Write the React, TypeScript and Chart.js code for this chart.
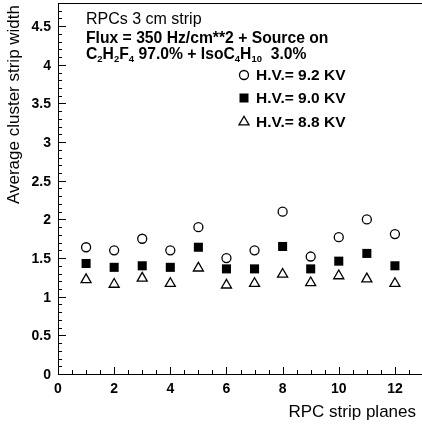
import React, { useEffect, useRef } from "react";
import { Chart, registerables } from "chart.js";

Chart.register(...registerables);

// ---- data ----
const planes = [1, 2, 3, 4, 5, 6, 7, 8, 9, 10, 11, 12];
const hv92 = [1.64, 1.6, 1.75, 1.6, 1.9, 1.5, 1.6, 2.1, 1.52, 1.77, 2.0, 1.81];
const hv90 = [1.43, 1.38, 1.4, 1.38, 1.64, 1.36, 1.36, 1.65, 1.36, 1.46, 1.56, 1.4];
const hv88 = [1.22, 1.16, 1.24, 1.17, 1.37, 1.15, 1.17, 1.29, 1.18, 1.27, 1.23, 1.17];
const xTickValues = [0, 2, 4, 6, 8, 10, 12];
const yTickValues = [0, 0.5, 1, 1.5, 2, 2.5, 3, 3.5, 4, 4.5];
const legendLabels = ["H.V.= 9.2 KV", "H.V.= 9.0 KV", "H.V.= 8.8 KV"];
const titleText = "RPCs 3 cm strip";
const fluxText = "Flux = 350 Hz/cm**2 + Source on";
const gasParts = [
  { t: "C", sub: false },
  { t: "2", sub: true },
  { t: "H", sub: false },
  { t: "2", sub: true },
  { t: "F", sub: false },
  { t: "4", sub: true },
  { t: " 97.0% + IsoC", sub: false },
  { t: "4", sub: true },
  { t: "H", sub: false },
  { t: "10", sub: true },
  { t: "  3.0%", sub: false },
];
const xTitle = "RPC strip planes";
const yTitle = "Average cluster strip width";
const xMin = 0;
const xMax = 13;
const yMin = 0;
const yMax = 4.8;

const FONT = "'Liberation Sans', Arial, Helvetica, sans-serif";
// desired plot frame (pixels)
const AREA = { left: 58, top: 3, right: 423, bottom: 374 };

function drawMarker(ctx: CanvasRenderingContext2D, kind: number, x: number, y: number) {
  ctx.save();
  ctx.lineWidth = 1.3;
  ctx.strokeStyle = "#000";
  if (kind === 0) {
    ctx.beginPath();
    ctx.arc(x, y, 4.5, 0, Math.PI * 2);
    ctx.fillStyle = "#fff";
    ctx.fill();
    ctx.stroke();
  } else if (kind === 1) {
    ctx.fillStyle = "#000";
    ctx.fillRect(x - 4.5, y - 4.5, 9, 9);
  } else {
    const r = 5.8;
    ctx.beginPath();
    ctx.moveTo(x, y - r);
    ctx.lineTo(x + r * Math.sin((2 * Math.PI) / 3), y + r / 2);
    ctx.lineTo(x - r * Math.sin((2 * Math.PI) / 3), y + r / 2);
    ctx.closePath();
    ctx.fillStyle = "#fff";
    ctx.fill();
    ctx.stroke();
  }
  ctx.restore();
}

const fmt = (v: number) => String(Math.round(v * 10) / 10);

const decorPlugin = {
  id: "rootDecor",
  afterDraw(chart: any) {
    const ctx: CanvasRenderingContext2D = chart.ctx;
    const a = chart.chartArea;
    const xs = chart.scales.x;
    const ys = chart.scales.y;
    ctx.save();
    // frame
    ctx.strokeStyle = "#000";
    ctx.lineWidth = 1;
    ctx.strokeRect(Math.round(a.left) + 0.5, Math.round(a.top) + 0.5, Math.round(a.right - a.left), Math.round(a.bottom - a.top));
    // y ticks (inside)
    ctx.beginPath();
    for (let i = 0; i <= Math.round((yMax - yMin) * 10); i++) {
      const v = yMin + i * 0.1;
      const py = Math.round(ys.getPixelForValue(v)) + 0.5;
      const len = i % 5 === 0 ? 8 : 4;
      ctx.moveTo(a.left, py);
      ctx.lineTo(a.left + len, py);
    }
    // x ticks (inside)
    for (let i = 0; i <= Math.round((xMax - xMin) * 2); i++) {
      const v = xMin + i * 0.5;
      const px = Math.round(xs.getPixelForValue(v)) + 0.5;
      const len = i % 4 === 0 ? 7 : 4;
      ctx.moveTo(px, a.bottom);
      ctx.lineTo(px, a.bottom - len);
    }
    ctx.stroke();

    ctx.fillStyle = "#000";
    // tick labels
    ctx.font = `bold 14px ${FONT}`;
    ctx.textBaseline = "middle";
    ctx.textAlign = "right";
    for (const v of yTickValues) {
      ctx.fillText(fmt(v), a.left - 7, ys.getPixelForValue(v) + 1);
    }
    ctx.textAlign = "center";
    for (const v of xTickValues) {
      ctx.fillText(fmt(v), xs.getPixelForValue(v), a.bottom + 15);
    }

    // title texts
    ctx.textBaseline = "alphabetic";
    ctx.textAlign = "left";
    ctx.font = `16px ${FONT}`;
    ctx.fillText(titleText, 86, 24);
    ctx.font = `bold 15.7px ${FONT}`;
    ctx.fillText(fluxText, 86, 43);
    // gas line with subscripts
    let gx = 86;
    const gy = 59;
    for (const p of gasParts) {
      ctx.font = p.sub ? `bold 9.5px ${FONT}` : `bold 15.7px ${FONT}`;
      ctx.fillText(p.t, gx, p.sub ? gy + 3 : gy);
      gx += ctx.measureText(p.t).width;
    }
    // legend
    const rows = [75, 98, 122];
    ctx.font = `bold 15.5px ${FONT}`;
    ctx.textBaseline = "middle";
    rows.forEach((ry, i) => {
      drawMarker(ctx, i, 244, ry);
      ctx.fillStyle = "#000";
      ctx.fillText(legendLabels[i], 256, ry + 1);
    });
    // axis titles
    ctx.font = `17px ${FONT}`;
    ctx.textAlign = "right";
    ctx.textBaseline = "alphabetic";
    ctx.fillText(xTitle, 416, 417);
    ctx.save();
    ctx.translate(19, 5);
    ctx.rotate(-Math.PI / 2);
    ctx.textAlign = "right";
    ctx.fillText(yTitle, 0, 0);
    ctx.restore();
    ctx.restore();
  },
};

export default function App() {
  const ref = useRef<HTMLCanvasElement | null>(null);
  useEffect(() => {
    document.body.style.margin = "0";
    if (!ref.current) return;
    const mk = (ys: number[]) => planes.map((x, i) => ({ x, y: ys[i] }));
    const chart = new Chart(ref.current, {
      type: "scatter",
      data: {
        datasets: [
          {
            label: legendLabels[0],
            data: mk(hv92),
            pointStyle: "circle",
            pointRadius: 4.5,
            pointBackgroundColor: "#fff",
            pointBorderColor: "#000",
            pointBorderWidth: 1.3,
          },
          {
            label: legendLabels[1],
            data: mk(hv90),
            pointStyle: "rect",
            pointRadius: 6.4,
            pointBackgroundColor: "#000",
            pointBorderColor: "#000",
            pointBorderWidth: 0,
          },
          {
            label: legendLabels[2],
            data: mk(hv88),
            pointStyle: "triangle",
            pointRadius: 5.8,
            pointBackgroundColor: "#fff",
            pointBorderColor: "#000",
            pointBorderWidth: 1.3,
          },
        ],
      },
      options: {
        responsive: true,
        maintainAspectRatio: false,
        devicePixelRatio: 1,
        animation: false,
        layout: { autoPadding: false, padding: { left: 58, top: 3, right: 1, bottom: 54 } },
        plugins: { legend: { display: false }, tooltip: { enabled: false } },
        scales: {
          x: { type: "linear", min: xMin, max: xMax, display: false },
          y: { type: "linear", min: yMin, max: yMax, display: false },
        },
      },
      plugins: [decorPlugin],
    } as any);
    // make the plot frame land exactly on the intended pixels
    let pad = { left: 58, top: 3, right: 1, bottom: 54 };
    for (let k = 0; k < 4; k++) {
      const a = chart.chartArea;
      if (!a) break;
      const dl = AREA.left - a.left;
      const dt = AREA.top - a.top;
      const dr = a.right - AREA.right;
      const db = a.bottom - AREA.bottom;
      if (Math.abs(dl) + Math.abs(dt) + Math.abs(dr) + Math.abs(db) < 0.5) break;
      pad = { left: pad.left + dl, top: pad.top + dt, right: pad.right + dr, bottom: pad.bottom + db };
      (chart.options as any).layout.padding = pad;
      chart.update();
    }
    return () => chart.destroy();
  }, []);
  return (
    <div style={{ position: "absolute", left: 0, top: 0, width: 422, height: 428, overflow: "hidden", background: "#fff" }}>
      <div style={{ position: "relative", width: 424, height: 428 }}>
        <canvas ref={ref} />
      </div>
    </div>
  );
}
